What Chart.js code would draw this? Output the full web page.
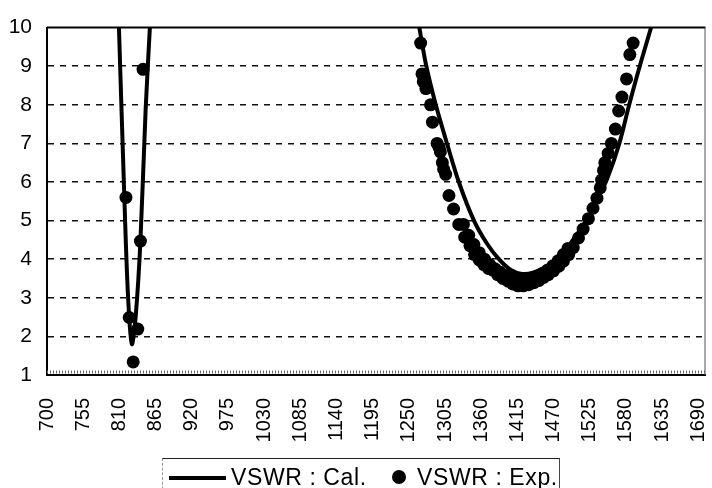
<!DOCTYPE html>
<html>
<head>
<meta charset="utf-8">
<script src="https://cdn.jsdelivr.net/npm/chart.js@4/dist/chart.umd.min.js"></script>
<style>
  html, body { margin: 0; padding: 0; background: #fff; }
  #wrap { position: relative; width: 712px; height: 488px; overflow: hidden; }
  #legend {
    position: absolute; left: 162px; top: 458px; width: 396px; height: 40px;
    border-top: 1px solid #222; border-right: 1px solid #444; border-left: 1px dashed #999;
    font-family: "Liberation Sans", Arial, sans-serif; font-size: 23px; letter-spacing: 0.6px; color: #000;
  }
  #legend .ln { position: absolute; left: 6px; top: 17px; width: 57px; height: 4px; background: #000; }
  #legend .dot { position: absolute; left: 229px; top: 11px; width: 14px; height: 14px; border-radius: 50%; background: #000; }
  #legend .t { position: absolute; top: 5px; white-space: pre; }
</style>
</head>
<body>
<div id="wrap">
  <canvas id="c" width="712" height="488"></canvas>
  <div id="legend">
    <div class="ln"></div><span class="t" style="left:68px">VSWR : Cal.</span>
    <div class="dot"></div><span class="t" style="left:254px">VSWR : Exp.</span>
  </div>
</div>
<script>
// frequency ticks on the x axis
const xTicks = [700, 755, 810, 865, 920, 975, 1030, 1085, 1140, 1195, 1250, 1305, 1360, 1415, 1470, 1525, 1580, 1635, 1690];
const yTicks = [1, 2, 3, 4, 5, 6, 7, 8, 9, 10];

// calculated VSWR (null breaks the line between the two bands)
const calFreq = [809, 817, 823, 829, 835, 842, 850, 857,
  1000,
  1264, 1276, 1291, 1308, 1326, 1349, 1369, 1387, 1405, 1422, 1440, 1460, 1478, 1493, 1508, 1523, 1538, 1552, 1570, 1585, 1601, 1620];
const calVswr = [10.2, 5.9, 3.1, 1.8, 2.56, 4.47, 7.9, 10.2,
  null,
  10.2, 9.05, 8.0, 7.0, 6.0, 5.0, 4.4, 4.0, 3.72, 3.62, 3.66, 3.82, 4.05, 4.35, 4.7, 5.1, 5.6, 6.1, 7.0, 8.0, 9.0, 10.1];

// measured VSWR
const expFreq = [820, 825, 831, 838, 842, 846,
  1268, 1270, 1272, 1276, 1283, 1286, 1293, 1296, 1298, 1301, 1303, 1306,
  1311, 1318, 1326, 1335, 1343, 1350, 1357, 1364, 1371, 1377, 1385, 1393, 1401, 1408, 1416, 1424,
  1432, 1440, 1448, 1455, 1462, 1470, 1478, 1485, 1493, 1500, 1508, 1515, 1523, 1530, 1536,
  1333, 1341, 1349, 1357, 1365, 1373, 1381, 1389, 1397, 1405, 1413, 1421, 1429, 1437, 1445, 1453,
  1461, 1469, 1477, 1485, 1492,
  1541, 1543, 1546, 1548, 1553, 1558, 1564, 1569, 1574, 1581, 1586, 1591];
const expVswr = [5.6, 2.49, 1.34, 2.19, 4.47, 8.92,
  9.6, 8.8, 8.6, 8.42, 8.0, 7.55, 7.0, 6.9, 6.78, 6.5, 6.33, 6.2,
  5.65, 5.3, 4.9, 4.57, 4.35, 4.12, 3.98, 3.86, 3.76, 3.72, 3.6, 3.5, 3.43, 3.36, 3.31, 3.31,
  3.34, 3.39, 3.45, 3.53, 3.6, 3.7, 3.82, 3.95, 4.12, 4.3, 4.55, 4.78, 5.05, 5.32, 5.58,
  4.9, 4.62, 4.38, 4.17, 4.0, 3.86, 3.75, 3.66, 3.58, 3.52, 3.48, 3.47, 3.48, 3.51, 3.56, 3.63,
  3.72, 3.83, 3.96, 4.12, 4.28,
  5.85, 6.05, 6.3, 6.5, 6.74, 7.0, 7.37, 7.84, 8.2, 8.67, 9.3, 9.6];

const FONT = '"Liberation Sans", Arial, sans-serif';

// plot frame: solid top, thin right, and the dense tick band over the bottom axis
const framePlugin = {
  id: 'frame',
  afterDatasetsDraw(chart) {
    const { ctx, chartArea: a } = chart;
    ctx.save();
    ctx.strokeStyle = '#000';
    ctx.lineWidth = 2;
    ctx.beginPath(); ctx.moveTo(a.left, a.top); ctx.lineTo(a.right, a.top); ctx.stroke();
    ctx.strokeStyle = '#555';
    ctx.lineWidth = 1;
    ctx.beginPath(); ctx.moveTo(a.right - 0.5, a.top); ctx.lineTo(a.right - 0.5, a.bottom); ctx.stroke();
    ctx.strokeStyle = '#666';
    ctx.lineWidth = 3;
    ctx.setLineDash([1, 2]);
    ctx.beginPath(); ctx.moveTo(a.left, a.bottom - 3); ctx.lineTo(a.right, a.bottom - 3); ctx.stroke();
    ctx.restore();
  }
};

new Chart(document.getElementById('c'), {
  type: 'line',
  data: {
    datasets: [
      {
        label: 'VSWR : Cal.',
        data: calFreq.map((f, i) => ({ x: f, y: calVswr[i] })),
        borderColor: '#000',
        borderWidth: 4,
        pointRadius: 0,
        tension: 0.3,
        spanGaps: false,
        order: 1
      },
      {
        label: 'VSWR : Exp.',
        data: expFreq.map((f, i) => ({ x: f, y: expVswr[i] })),
        showLine: false,
        pointRadius: 6.5,
        pointBackgroundColor: '#000',
        pointBorderWidth: 0,
        order: 2
      }
    ]
  },
  options: {
    responsive: false,
    animation: false,
    layout: { padding: { top: 17, right: 4, left: 0, bottom: 0 } },
    plugins: { legend: { display: false }, tooltip: { enabled: false } },
    scales: {
      x: {
        type: 'linear',
        min: 700,
        max: 1701,
        afterBuildTicks: s => { s.ticks = xTicks.map(v => ({ value: v })); },
        afterFit: s => { s.height = 113; s.paddingLeft = 0; s.paddingRight = 0; },
        grid: { display: false },
        border: { display: true, color: '#000', width: 2 },
        ticks: {
          autoSkip: false,
          minRotation: 90,
          maxRotation: 90,
          padding: 15,
          color: '#000',
          font: { family: FONT, size: 20 },
          callback: v => String(v)
        }
      },
      y: {
        min: 1,
        max: 10,
        afterBuildTicks: s => { s.ticks = yTicks.map(v => ({ value: v })); },
        afterFit: s => { s.width = 47; },
        grid: {
          drawTicks: false,
          lineWidth: 1.5,
          color: c => (c.tick && (c.tick.value === 1 || c.tick.value === 10)) ? 'rgba(0,0,0,0)' : '#111'
        },
        border: { display: true, color: '#000', width: 2, dash: [6, 6] },
        ticks: {
          padding: 15,
          color: '#000',
          font: { family: FONT, size: 21 }
        }
      }
    }
  },
  plugins: [framePlugin]
});
</script>
</body>
</html>
